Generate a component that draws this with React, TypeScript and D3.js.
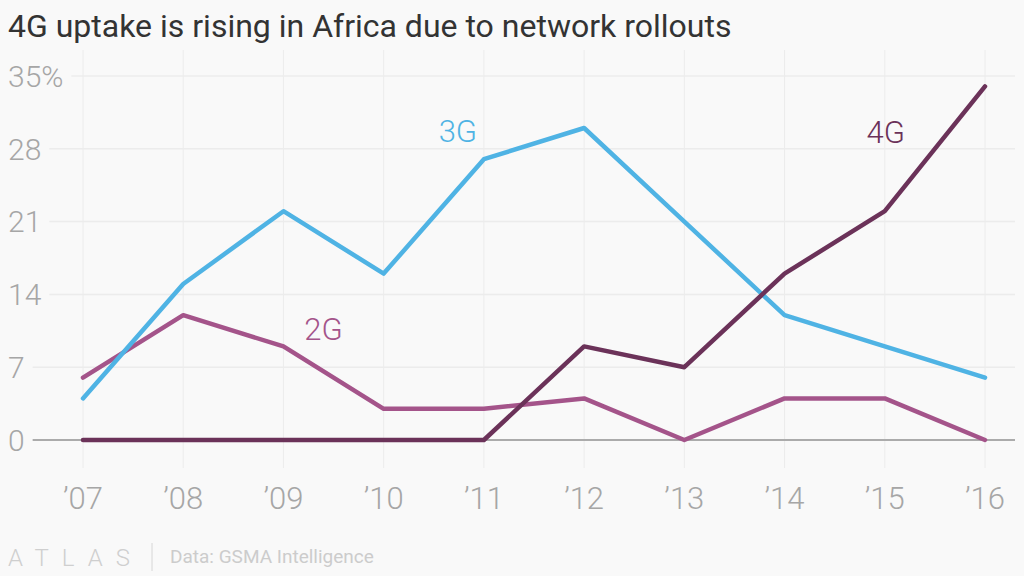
import { useEffect, useRef } from 'react';
import * as d3 from 'd3';

const years = ['\u201907', '\u201908', '\u201909', '\u201910', '\u201911', '\u201912', '\u201913', '\u201914', '\u201915', '\u201916'];
const yTicks = [0, 7, 14, 21, 28, 35];

const series3G = [4, 15, 22, 16, 27, 30, 21, 12, 9, 6];
const series2G = [6, 12, 9, 3, 3, 4, 0, 4, 4, 0];
const series4G = [0, 0, 0, 0, 0, 9, 7, 16, 22, 34];

const seriesList = [
  { name: '2G', values: series2G, color: '#a4548a', labelAt: 2.4, labelY: 340 },
  { name: '3G', values: series3G, color: '#4fb3e4', labelAt: 3.74, labelY: 142 },
  { name: '4G', values: series4G, color: '#6b3259', labelAt: 8.01, labelY: 143 },
];

const W = 1024;
const H = 576;
const FONT = 'Roboto, "Noto Sans", sans-serif';

export default function App() {
  const svgRef = useRef<SVGSVGElement>(null);

  useEffect(() => {
    if (!svgRef.current) return;
    const svg = d3.select(svgRef.current);
    svg.selectAll('*').remove();

    const x = d3.scaleLinear().domain([0, years.length - 1]).range([83, 985]);
    const y = d3.scaleLinear().domain([0, 35]).range([440, 76]);

    svg.append('rect').attr('width', W).attr('height', H).attr('fill', '#f9f9f9');

    // title
    svg.append('text')
      .attr('x', 8)
      .attr('y', 37)
      .attr('font-family', FONT)
      .attr('font-size', 32)
      .attr('fill', '#333')
      .text('4G uptake is rising in Africa due to network rollouts');

    // vertical grid
    svg.append('g')
      .selectAll('line')
      .data(years)
      .join('line')
      .attr('x1', (_, i) => x(i))
      .attr('x2', (_, i) => x(i))
      .attr('y1', 50)
      .attr('y2', 468)
      .attr('stroke', '#ececec')
      .attr('stroke-width', 1);

    // y ticks with gridlines starting after the label
    const yg = svg.append('g');
    yTicks.forEach((t) => {
      const label = yg.append('text')
        .attr('x', 8)
        .attr('y', y(t))
        .attr('dy', '0.36em')
        .attr('font-family', FONT)
        .attr('font-weight', 300)
        .attr('font-size', 30)
        .attr('fill', '#a6a6a6')
        .text(t === 35 ? '35%' : String(t));
      const w = (label.node() as SVGTextElement).getComputedTextLength();
      yg.insert('line', 'text')
        .attr('x1', 8 + w + 8)
        .attr('x2', 1015)
        .attr('y1', y(t))
        .attr('y2', y(t))
        .attr('stroke', t === 0 ? '#ababab' : '#ececec')
        .attr('stroke-width', t === 0 ? 2 : 1.5);
    });

    // x labels
    svg.append('g')
      .selectAll('text')
      .data(years)
      .join('text')
      .attr('x', (_, i) => x(i))
      .attr('y', 509)
      .attr('text-anchor', 'middle')
      .attr('font-family', FONT)
      .attr('font-weight', 300)
      .attr('font-size', 31)
      .attr('fill', '#a6a6a6')
      .text((d) => d);

    // lines
    const line = d3.line<number>()
      .x((_, i) => x(i))
      .y((d) => y(d));

    seriesList.forEach((s) => {
      svg.append('path')
        .datum(s.values)
        .attr('fill', 'none')
        .attr('stroke', s.color)
        .attr('stroke-width', 4.5)
        .attr('stroke-linejoin', 'round')
        .attr('stroke-linecap', 'round')
        .attr('d', line);
      svg.append('text')
        .attr('x', x(s.labelAt))
        .attr('y', s.labelY)
        .attr('text-anchor', 'middle')
        .attr('font-family', FONT)
        .attr('font-weight', 300)
        .attr('font-size', 31)
        .attr('fill', s.color)
        .text(s.name);
    });

    // footer
    svg.append('text')
      .attr('x', 8)
      .attr('y', 566)
      .attr('font-family', FONT)
      .attr('font-weight', 300)
      .attr('font-size', 24)
      .attr('letter-spacing', 13)
      .attr('fill', '#cfcfcf')
      .text('ATLAS');
    svg.append('line')
      .attr('x1', 152)
      .attr('x2', 152)
      .attr('y1', 543)
      .attr('y2', 571)
      .attr('stroke', '#d6d6d6')
      .attr('stroke-width', 1);
    svg.append('text')
      .attr('x', 170)
      .attr('y', 563)
      .attr('font-family', FONT)
      .attr('font-size', 19)
      .attr('fill', '#cccccc')
      .text('Data: GSMA Intelligence');
  }, []);

  return (
    <svg
      ref={svgRef}
      width={W}
      height={H}
      style={{ position: 'absolute', left: 0, top: 0 }}
    />
  );
}
